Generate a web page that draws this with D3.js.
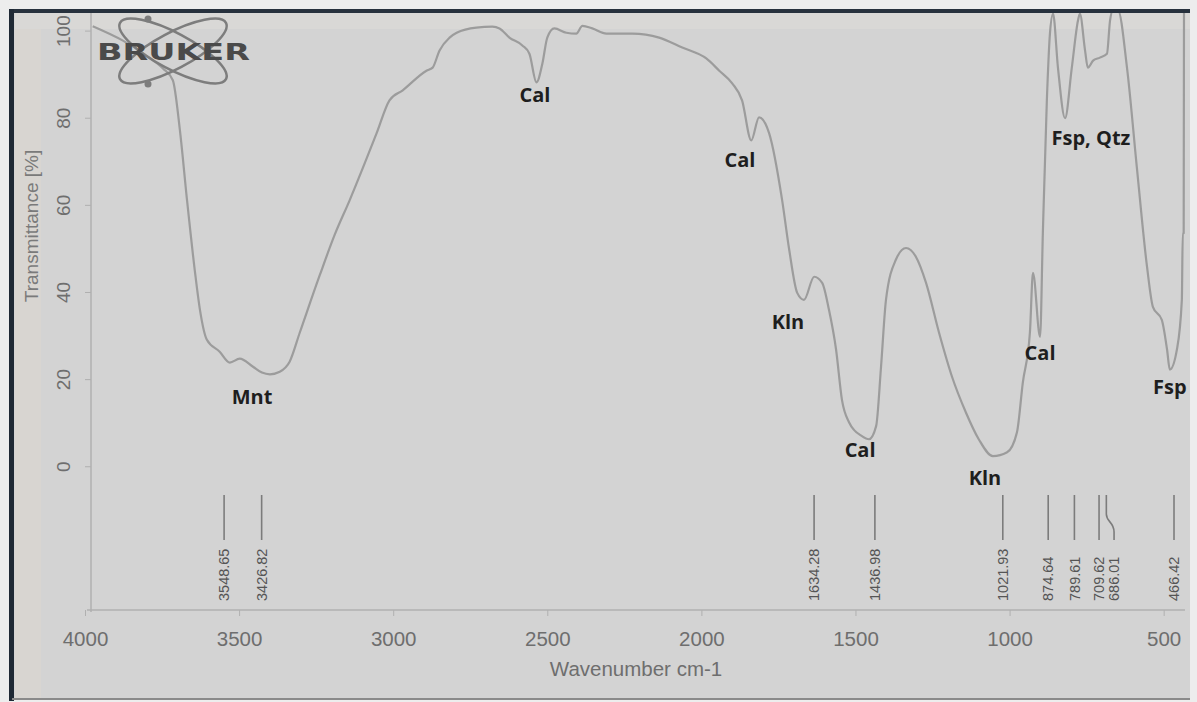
<!DOCTYPE html>
<html>
<head>
<meta charset="utf-8">
<script src="https://cdn.jsdelivr.net/npm/d3@7"></script>
<style>
  body { margin: 0; background: #ececec; }
  svg { display: block; }
</style>
</head>
<body>
<svg id="chart" width="1197" height="702"></svg>
<script>
// FTIR spectrum: wavenumber (cm-1) and transmittance (%)
const wavenumber = [3975, 3877, 3805, 3747, 3715, 3692, 3669, 3644, 3627, 3605,
    3563, 3530, 3498, 3456, 3426, 3400, 3368, 3336, 3303, 3238,
    3190, 3141, 3054, 3012, 2969, 2892, 2872, 2850, 2817, 2794,
    2730, 2678, 2655, 2623, 2581, 2558, 2535, 2516, 2500, 2477,
    2438, 2406, 2386, 2354, 2308, 2224, 2137, 2062, 1984, 1942,
    1900, 1868, 1838, 1813, 1780, 1738, 1715, 1689, 1667, 1634,
    1608, 1586, 1563, 1544, 1521, 1479, 1456, 1433, 1417, 1401,
    1369, 1336, 1304, 1271, 1229, 1187, 1142, 1100, 1054, 1008,
    976, 957, 934, 924, 901, 892, 879, 869, 859, 843,
    820, 798, 778, 772, 755, 746, 729, 707, 684, 674,
    665, 648, 619, 587, 554, 535, 506, 489, 480, 457,
    441, 438, 435, 434]
const transmittance = [101, 97.7, 94.5, 91.3, 88.6, 77.1, 61.1, 45.1, 35.9, 29.1,
    26.3, 23.8, 24.7, 22.9, 21.5, 21.1, 21.7, 24.0, 30.7, 43.9,
    53.1, 61.1, 76.4, 84.0, 86.3, 90.8, 91.5, 95.4, 98.4, 99.5,
    100.7, 100.9, 100.5, 98.4, 96.6, 94.7, 88.1, 92.4, 98.4, 100.5,
    99.5, 99.3, 101.1, 100.5, 99.3, 99.3, 98.4, 96.1, 93.6, 90.8,
    87.9, 84.0, 74.8, 80.1, 76.4, 61.1, 49.7, 39.8, 38.2, 43.5,
    42.1, 35.9, 26.8, 15.3, 10.1, 6.9, 6.2, 9.2, 22.9, 38.2,
    47.4, 50.1, 48.1, 42.1, 30.7, 20.6, 12.4, 6.2, 2.3, 3.2,
    7.8, 19.2, 30.7, 44.4, 29.7, 53.5, 84.0, 99.3, 103.9, 91.5,
    79.9, 91.5, 102.3, 103.9, 95.4, 91.5, 93.1, 93.8, 94.7, 102.3,
    104.6, 104.6, 91.5, 68.6, 45.8, 36.6, 33.6, 26.8, 22.2, 26.8,
    38.2, 53.5, 53.5, 104.6]

// picked peaks (bottom markers)
const peakWn = [3548.65, 3426.82, 1634.28, 1436.98, 1021.93, 874.64, 789.61, 709.62, 686.01, 466.42]
const peakText = ['3548.65', '3426.82', '1634.28', '1436.98', '1021.93', '874.64', '789.61', '709.62', '686.01', '466.42']

// mineral names written next to the bands (anchored in data units)
const bandName = ['Mnt', 'Cal', 'Cal', 'Kln', 'Cal', 'Kln', 'Cal', 'Fsp, Qtz', 'Fsp']
const bandWn = [3458, 2540, 1875, 1719, 1485, 1080, 901, 736, 480]
const bandT = [14.3, 83.6, 68.7, 31.5, 2.1, -4.3, 24.4, 73.7, 16.6]

const xTicks = [4000, 3500, 3000, 2500, 2000, 1500, 1000, 500]
const yTicks = [0, 20, 40, 60, 80, 100]

let svg = d3.select('#chart')
const W = 1197, H = 702
const axisCol = '#b0b0b0'
const textCol = '#6e6e6e'

// photo background and frame
svg.append('rect').attr('width', W).attr('height', H).attr('fill', '#ededed')
svg.append('rect').attr('x', 12).attr('y', 11).attr('width', 1178).attr('height', 688)
    .attr('fill', '#d3d3d3')
svg.append('rect').attr('x', 15).attr('y', 13).attr('width', 26).attr('height', 686)
    .attr('fill', '#d8d5d1')
svg.append('rect').attr('x', 15).attr('y', 13).attr('width', 1175).attr('height', 16)
    .attr('fill', '#d9d8d6')
svg.append('rect').attr('x', 10).attr('y', 9).attr('width', 1180).attr('height', 4)
    .attr('fill', '#27313d')
svg.append('rect').attr('x', 9).attr('y', 9).attr('width', 5).attr('height', 692)
    .attr('fill', '#1f2935')
svg.append('rect').attr('x', 12).attr('y', 698).attr('width', 1178).attr('height', 2)
    .attr('fill', '#8a8a8a')

let x = d3.scaleLinear().domain([4000, 434]).range([85, 1184])
let y = d3.scaleLinear().domain([-33, 104.5]).range([610, 11])

svg.append('clipPath').attr('id', 'plotclip')
    .append('rect').attr('x', 85).attr('y', 13).attr('width', 1105).attr('height', 600)

// x axis
let gx = svg.append('g')
    .attr('transform', 'translate(0,610)')
    .call(d3.axisBottom(x).tickValues(xTicks).tickFormat(d3.format('d'))
        .tickSize(6).tickPadding(15).tickSizeOuter(0))
gx.select('.domain').attr('stroke', axisCol).attr('stroke-width', 1.5)
    .attr('d', 'M87,0H1185')
gx.selectAll('.tick line').attr('stroke', axisCol)
gx.selectAll('.tick text')
    .attr('fill', textCol)
    .style('font', '20.5px "Liberation Sans", Arial, sans-serif')

// y axis, labels turned like the Bruker print
let gy = svg.append('g')
    .attr('transform', 'translate(91,0)')
    .call(d3.axisLeft(y).tickValues(yTicks).tickSize(6).tickSizeOuter(0))
gy.select('.domain').attr('stroke', axisCol).attr('stroke-width', 1.5)
    .attr('d', 'M0,13V612')
gy.selectAll('.tick line').attr('stroke', axisCol)
gy.selectAll('.tick text')
    .attr('x', null).attr('dy', null)
    .attr('transform', 'translate(-28,0) rotate(-90)')
    .attr('text-anchor', 'middle')
    .attr('dominant-baseline', 'central')
    .attr('fill', textCol)
    .style('font', '19px "Liberation Sans", Arial, sans-serif')

svg.append('text')
    .attr('transform', 'translate(31,226) rotate(-90)')
    .attr('text-anchor', 'middle')
    .attr('dominant-baseline', 'central')
    .attr('fill', '#7a7a7a')
    .style('font', '19px "Liberation Sans", Arial, sans-serif')
    .text('Transmittance [%]')

svg.append('text')
    .attr('x', 636).attr('y', 676)
    .attr('text-anchor', 'middle')
    .attr('fill', textCol)
    .style('font', '20.5px "Liberation Sans", Arial, sans-serif')
    .text('Wavenumber cm-1')

// spectrum
let spec = wavenumber.map((w, i) => [w, transmittance[i]])
let line = d3.line()
    .x(d => x(d[0]))
    .y(d => y(d[1]))
    .curve(d3.curveMonotoneX)
svg.append('path')
    .datum(spec)
    .attr('clip-path', 'url(#plotclip)')
    .attr('fill', 'none')
    .attr('stroke', '#9c9c9c')
    .attr('stroke-width', 2.2)
    .attr('stroke-linejoin', 'round')
    .attr('d', line)

// peak markers; labels pushed apart when too close, line bends to follow
let lastLx = -100
let peaks = peakWn.map((w, i) => {
    let px = x(w)
    let lx = Math.max(px, lastLx + 15)
    lastLx = lx
    return { px: px, lx: lx, text: peakText[i] }
})
let gp = svg.append('g')
gp.selectAll('path')
    .data(peaks)
    .join('path')
    .attr('fill', 'none')
    .attr('stroke', '#7c7c7c')
    .attr('stroke-width', 1.6)
    .attr('d', d => d.lx === d.px
        ? 'M' + d.px + ',495V540'
        : 'M' + d.px + ',495V514C' + d.px + ',522 ' + d.lx + ',522 ' + d.lx + ',532V540')
gp.selectAll('text')
    .data(peaks)
    .join('text')
    .attr('transform', d => 'translate(' + d.lx + ',601) rotate(-90)')
    .attr('dy', '0.36em')
    .attr('fill', '#555')
    .style('font', '14.5px "Liberation Sans", Arial, sans-serif')
    .text(d => d.text)

// band assignments
svg.append('g').selectAll('text')
    .data(bandName)
    .join('text')
    .attr('x', (d, i) => x(bandWn[i]))
    .attr('y', (d, i) => y(bandT[i]))
    .attr('text-anchor', 'middle')
    .attr('fill', '#1e1e1e')
    .style('font', 'bold 20px "Open Sans", "Liberation Sans", sans-serif')
    .text(d => d)

// Bruker logo
let logo = svg.append('g').attr('transform', 'translate(173,51)')
logo.selectAll('ellipse')
    .data([28, -28])
    .join('ellipse')
    .attr('rx', 60).attr('ry', 18)
    .attr('transform', d => 'rotate(' + d + ')')
    .attr('fill', 'none')
    .attr('stroke', '#7d7d7d')
    .attr('stroke-width', 2.5)
logo.selectAll('circle')
    .data([[-25, -32], [-25, 33]])
    .join('circle')
    .attr('cx', d => d[0]).attr('cy', d => d[1])
    .attr('r', 3.5)
    .attr('fill', '#7d7d7d')
logo.append('text')
    .attr('x', -76).attr('y', 9)
    .attr('textLength', 153)
    .attr('lengthAdjust', 'spacingAndGlyphs')
    .attr('fill', '#4a4a4a')
    .style('font', 'bold 23px "DejaVu Sans", sans-serif')
    .text('BRUKER')
</script>
</body>
</html>
